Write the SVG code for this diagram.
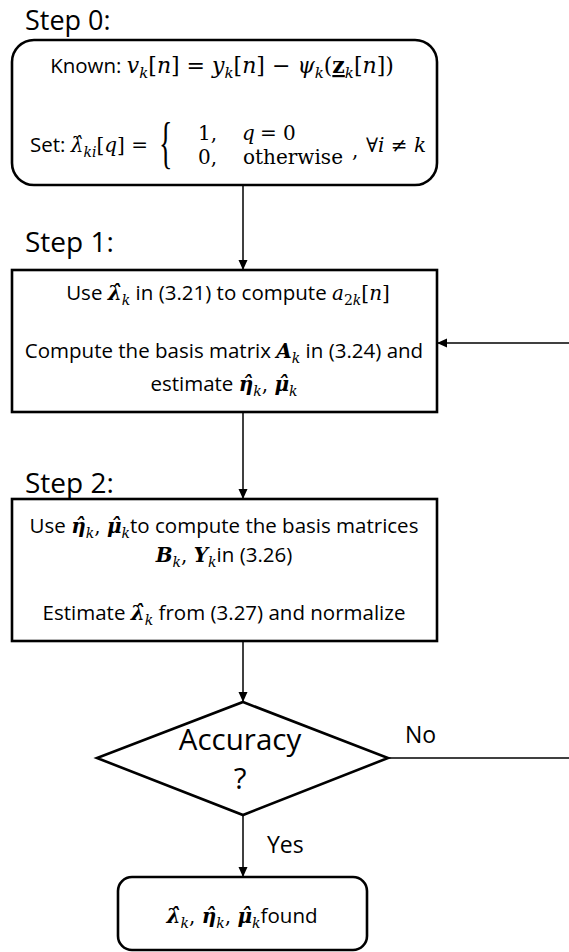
<svg xmlns="http://www.w3.org/2000/svg" width="569" height="952" viewBox="0 0 569 952">
<defs>
<marker id="arr" markerWidth="10" markerHeight="10" refX="10" refY="5" orient="auto" markerUnits="userSpaceOnUse">
<path d="M0,0.5 L10,5 L0,9.5 z" fill="#000"/>
</marker>
<style>
.box{fill:#fff;stroke:#000;stroke-width:2.6}
.edge{fill:none;stroke:#000;stroke-width:1.5}
.lbl{font-family:"Open Sans",sans-serif;font-size:28px;fill:#000}
.t{font-family:"Open Sans",sans-serif;font-size:20.5px;fill:#000}
.m{font-family:"DejaVu Serif",serif;font-style:italic;font-size:20px}
.mu{font-family:"DejaVu Serif",serif;font-style:normal;font-size:20px}
.big .m,.big .mu{font-size:22px}
.b{font-weight:bold}
.s{font-size:14px}
.big .s{font-size:15px}
</style>
</defs>
<text class="lbl" x="25" y="30" style="font-size:27px">Step 0:</text>
<text class="lbl" x="25" y="252">Step 1:</text>
<text class="lbl" x="25" y="493">Step 2:</text>

<g id="connectors">
<line class="edge" x1="243" y1="185" x2="243" y2="270" marker-end="url(#arr)"/>
<line class="edge" x1="243" y1="412" x2="243" y2="499" marker-end="url(#arr)"/>
<line class="edge" x1="243" y1="641" x2="243" y2="702" marker-end="url(#arr)"/>
<line class="edge" x1="243" y1="815" x2="243" y2="877" marker-end="url(#arr)"/>
<line class="edge" x1="388" y1="758" x2="569" y2="758"/>
<line class="edge" x1="569" y1="343" x2="437" y2="343" marker-end="url(#arr)"/>
<text class="t" x="405" y="743" style="font-size:23px">No</text>
<text class="t" x="267" y="853" style="font-size:23px">Yes</text>
</g>

<g id="step0">
<rect class="box" x="12" y="40" width="425" height="145" rx="22"/>
<text class="t big" x="222" y="73" text-anchor="middle">Known: <tspan class="m">v</tspan><tspan class="m s" dy="5">k</tspan><tspan class="mu" dy="-5">[</tspan><tspan class="m">n</tspan><tspan class="mu">] = </tspan><tspan class="m">y</tspan><tspan class="m s" dy="5">k</tspan><tspan class="mu" dy="-5">[</tspan><tspan class="m">n</tspan><tspan class="mu">] − </tspan><tspan class="m">ψ</tspan><tspan class="m s" dy="5">k</tspan><tspan class="mu" dy="-5">(</tspan><tspan class="mu b" text-decoration="underline">z</tspan><tspan class="m s" dy="5">k</tspan><tspan class="mu" dy="-5">[</tspan><tspan class="m">n</tspan><tspan class="mu">])</tspan></text>
<text class="t" x="30" y="152">Set: <tspan class="m">λ̂</tspan><tspan class="m s" dy="5">ki</tspan><tspan class="mu" dy="-5">[</tspan><tspan class="m">q</tspan><tspan class="mu">] =</tspan></text>
<text class="mu" transform="translate(159,162) scale(0.5,1)" style="font-family:'Liberation Serif',serif;font-size:56px">{</text>
<text class="mu" x="198" y="140">1,</text>
<text class="m" x="242" y="140">q</text>
<text class="mu" x="260" y="140">= 0</text>
<text class="mu" x="198" y="164">0,</text>
<text class="mu" x="243" y="164">otherwise</text>
<text class="mu" x="352" y="157">,</text>
<text class="mu" x="366" y="152">∀<tspan class="m">i</tspan> ≠ <tspan class="m">k</tspan></text>
</g>

<g id="step1">
<rect class="box" x="12" y="270" width="425" height="142"/>
<text class="t" x="228" y="300" text-anchor="middle">Use <tspan class="m b">λ̂</tspan><tspan class="m s" dy="5">k</tspan><tspan dy="-5"> in (3.21) to compute </tspan><tspan class="m">a</tspan><tspan class="mu s" dy="5">2</tspan><tspan class="m s">k</tspan><tspan class="mu" dy="-5">[</tspan><tspan class="m">n</tspan><tspan class="mu">]</tspan></text>
<text class="t" x="224" y="358" text-anchor="middle">Compute the basis matrix <tspan class="m b">A</tspan><tspan class="m s" dy="5">k</tspan><tspan dy="-5"> in (3.24) and</tspan></text>
<text class="t" x="224" y="391" text-anchor="middle">estimate <tspan class="m b">η̂</tspan><tspan class="m s" dy="5">k</tspan><tspan class="mu" dy="-5">, </tspan><tspan class="m b">μ̂</tspan><tspan class="m s" dy="5">k</tspan></text>
</g>

<g id="step2">
<rect class="box" x="12" y="499" width="425" height="142"/>
<text class="t" x="224" y="533" text-anchor="middle">Use <tspan class="m b">η̂</tspan><tspan class="m s" dy="5">k</tspan><tspan class="mu" dy="-5">, </tspan><tspan class="m b">μ̂</tspan><tspan class="m s" dy="5">k</tspan><tspan dy="-5">to compute the basis matrices</tspan></text>
<text class="t" x="224" y="562" text-anchor="middle"><tspan class="m b">B</tspan><tspan class="m s" dy="5">k</tspan><tspan class="mu" dy="-5">, </tspan><tspan class="m b">Y</tspan><tspan class="m s" dy="5">k</tspan><tspan dy="-5">in (3.26)</tspan></text>
<text class="t" x="224" y="620" text-anchor="middle">Estimate <tspan class="m b">λ̂</tspan><tspan class="m s" dy="5">k</tspan><tspan dy="-5"> from (3.27) and normalize</tspan></text>
</g>

<g id="decision">
<polygon class="box" points="243,702 388,758 243,815 97,758"/>
<text class="lbl" x="240" y="750" text-anchor="middle" style="font-size:29.5px">Accuracy</text>
<text class="lbl" x="240" y="789" text-anchor="middle" style="font-size:29.5px">?</text>
</g>

<g id="result">
<rect class="box" x="118" y="877" width="249" height="73" rx="14"/>
<text class="t" x="242" y="923" text-anchor="middle"><tspan class="m b">λ̂</tspan><tspan class="m s" dy="5">k</tspan><tspan class="mu" dy="-5">, </tspan><tspan class="m b">η̂</tspan><tspan class="m s" dy="5">k</tspan><tspan class="mu" dy="-5">, </tspan><tspan class="m b">μ̂</tspan><tspan class="m s" dy="5">k</tspan><tspan dy="-5">found</tspan></text>
</g>
</svg>
